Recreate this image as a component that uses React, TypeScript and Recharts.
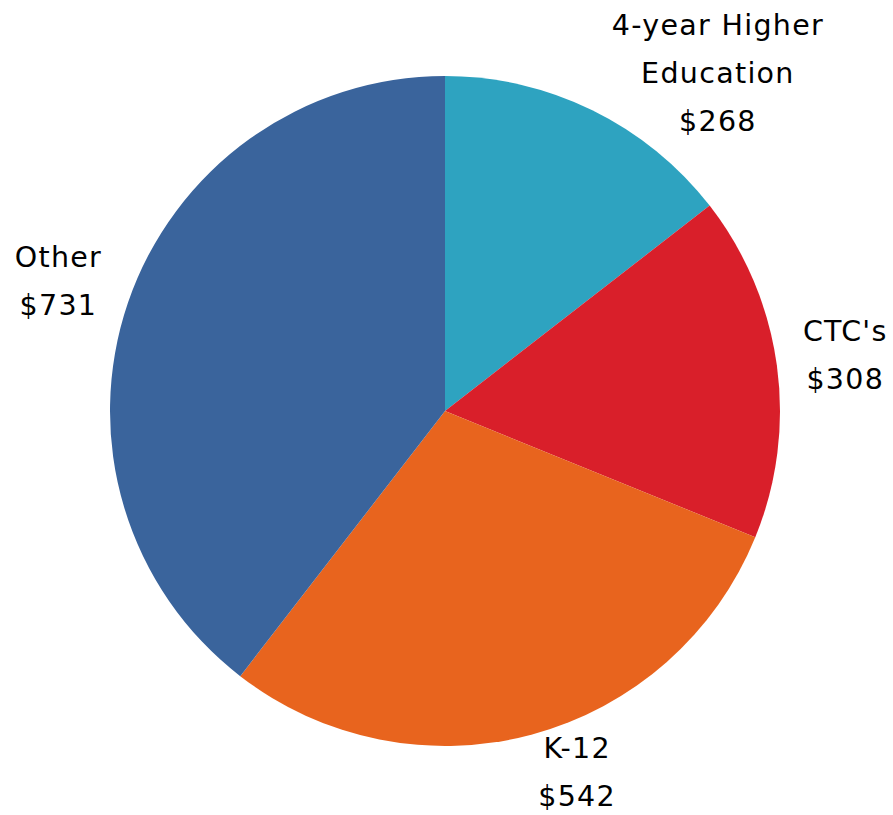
import { PieChart, Pie, Cell } from "recharts";

const categories = ["4-year Higher Education", "CTC's", "K-12", "Other"];
const values = [268, 308, 542, 731];
const colors = ["#2ea3c0", "#d91f2a", "#e8641e", "#3a649c"];

const data = categories.map((name, i) => ({ name, value: values[i] }));

const RAD = Math.PI / 180;
const LINE_H = 48;
// small per-label nudges so text sits where the original placed it
const nudge = [
  { dx: 97, dy: 21 },
  { dx: 4, dy: -1 },
  { dx: 28, dy: -25 },
  { dx: -8, dy: -1 },
];

function wrap(name: string) {
  if (name.length <= 14) return [name];
  const i = name.lastIndexOf(" ");
  return [name.slice(0, i), name.slice(i + 1)];
}

function renderLabel(props: any) {
  const { cx, cy, midAngle, outerRadius, index, name, value } = props;
  const r = outerRadius + 65;
  const x = cx + r * Math.cos(-midAngle * RAD) + nudge[index].dx;
  const y = cy + r * Math.sin(-midAngle * RAD) + nudge[index].dy;
  const lines = [...wrap(name), `$${value}`];
  const top = y - ((lines.length - 1) * LINE_H) / 2;
  return (
    <text
      x={x}
      y={top}
      textAnchor="middle"
      dominantBaseline="central"
      fill="#000"
      fontSize={28.5}
      letterSpacing={1.3}
      fontFamily="DejaVu Sans, sans-serif"
    >
      {lines.map((l, i) => (
        <tspan key={i} x={x} y={top + i * LINE_H}>
          {l}
        </tspan>
      ))}
    </text>
  );
}

export default function App() {
  return (
    <div style={{ position: "absolute", left: 0, top: 0, background: "#fff" }}>
      <PieChart
        width={893}
        height={815}
        margin={{ top: 0, right: 0, bottom: 0, left: 0 }}
      >
        <Pie
          data={data}
          dataKey="value"
          nameKey="name"
          cx={445}
          cy={411}
          outerRadius={335}
          startAngle={90}
          endAngle={-270}
          stroke="none"
          label={renderLabel}
          labelLine={false}
          isAnimationActive={false}
        >
          {data.map((d, i) => (
            <Cell key={d.name} fill={colors[i]} />
          ))}
        </Pie>
      </PieChart>
    </div>
  );
}
